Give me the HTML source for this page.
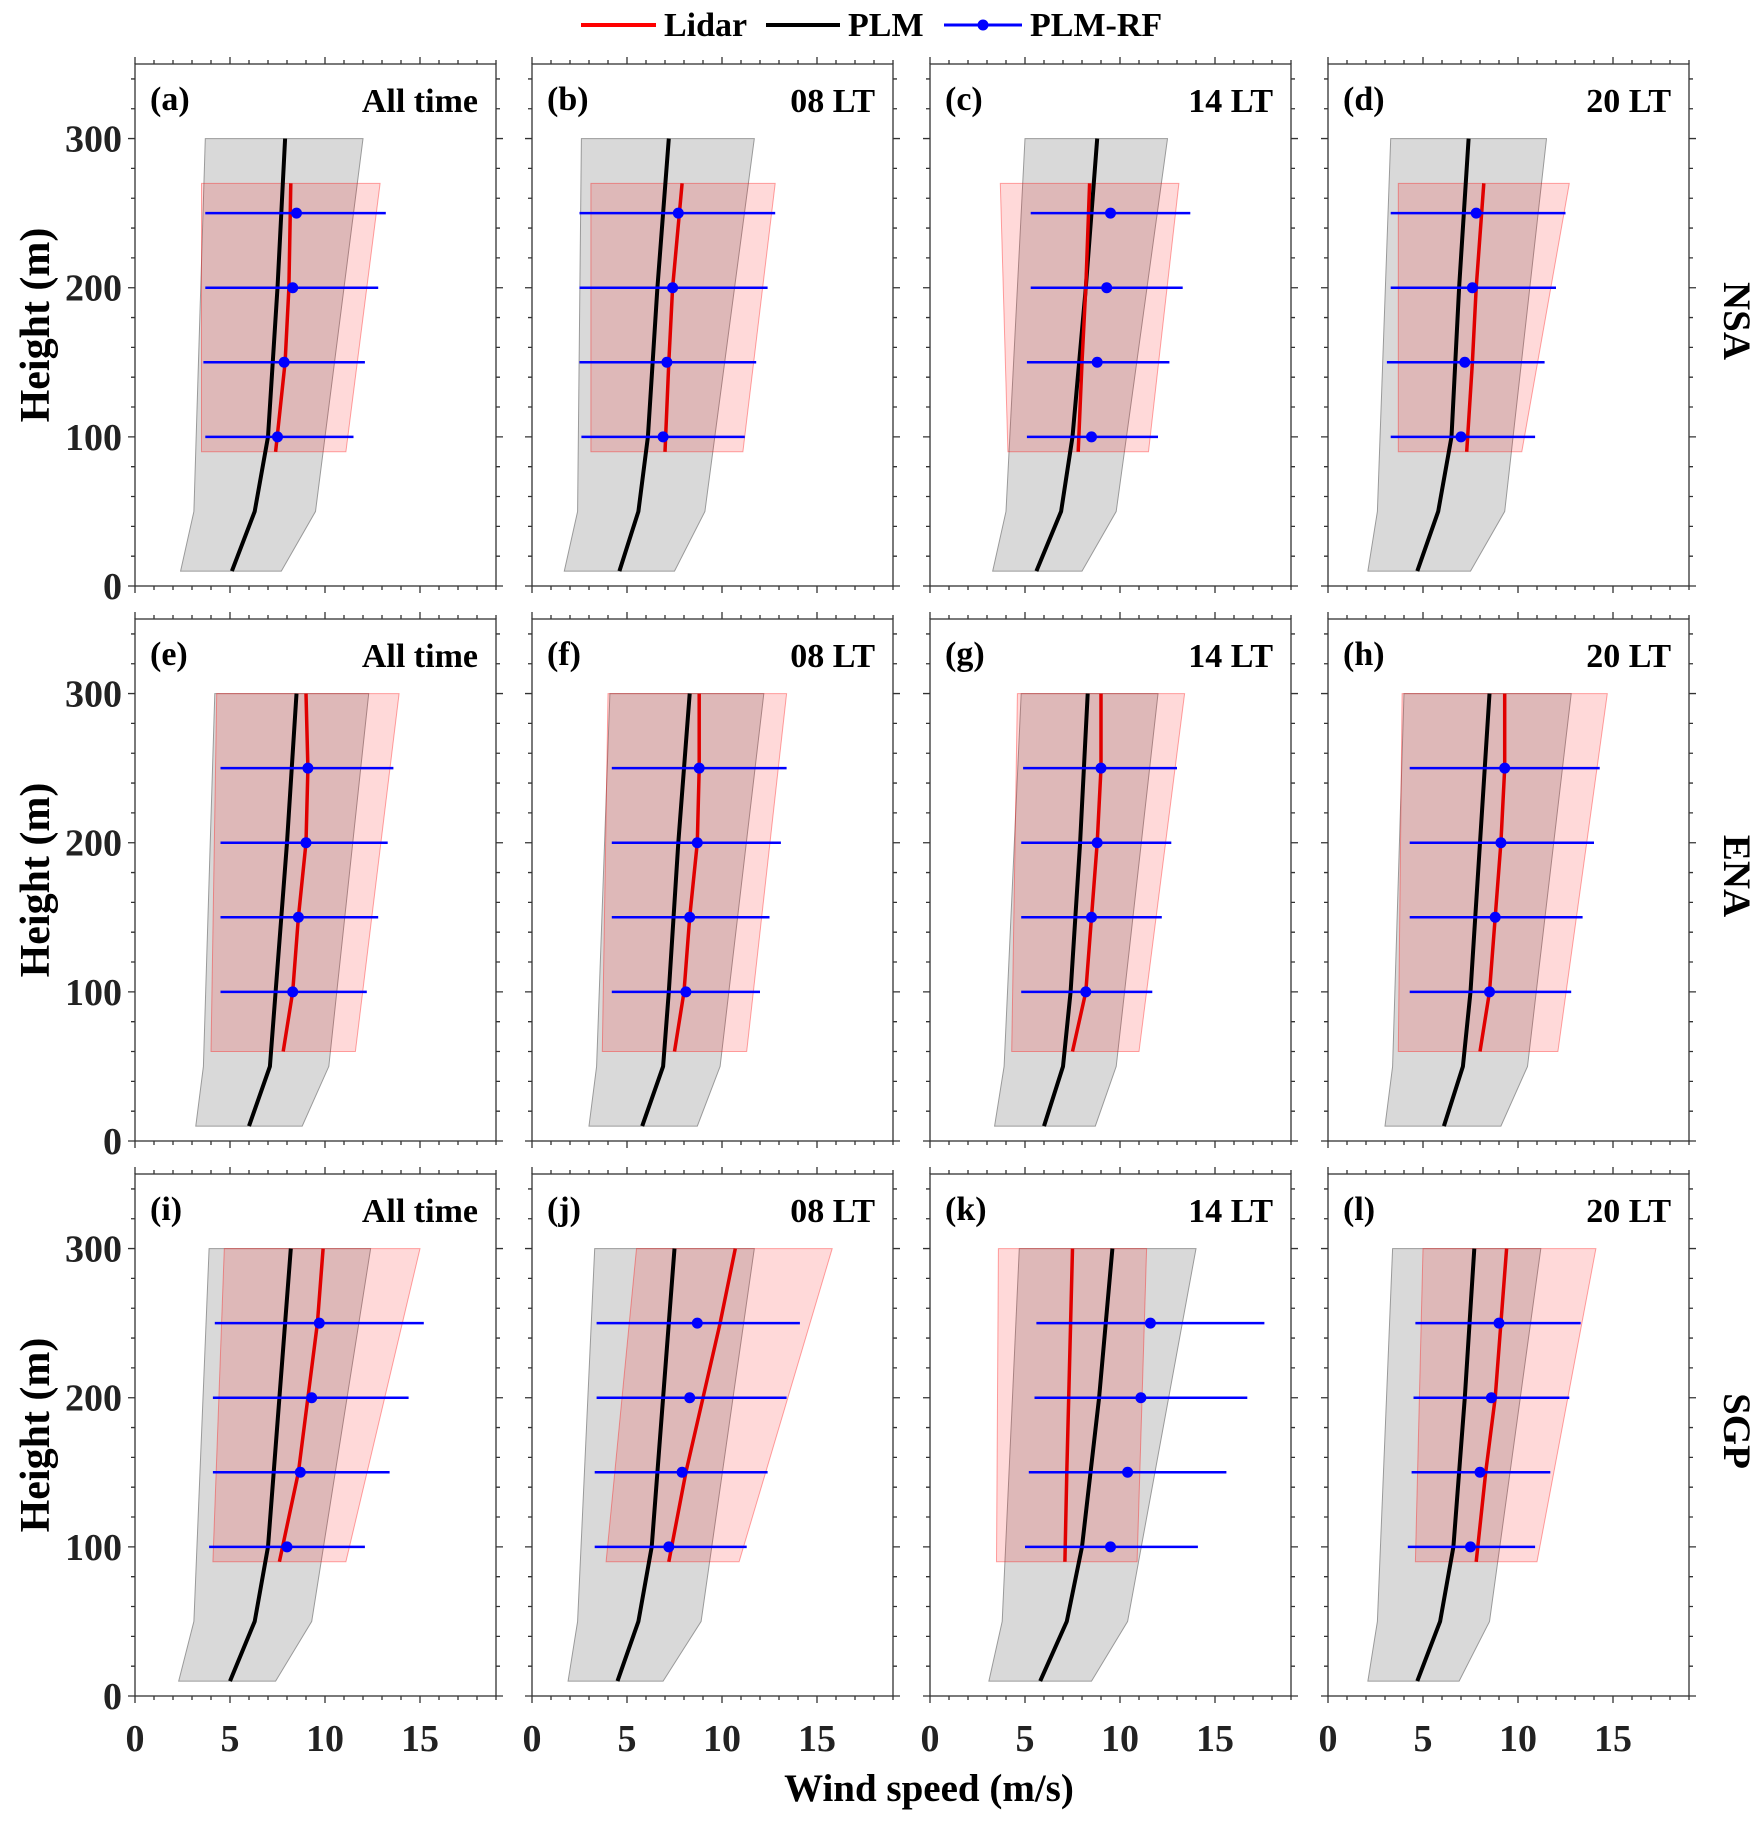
<!DOCTYPE html>
<html><head><meta charset="utf-8">
<style>
html,body{margin:0;padding:0;background:#fff;}
svg{display:block;font-family:"Liberation Serif",serif;font-weight:bold;}
</style></head>
<body>
<svg id="fig" width="1763" height="1821" viewBox="0 0 1763 1821" xmlns="http://www.w3.org/2000/svg">
<g>
  <line x1="581" y1="25" x2="656" y2="25" stroke="#ff0000" stroke-width="4"/>
  <text x="664" y="36" font-size="34">Lidar</text>
  <line x1="766" y1="25" x2="840" y2="25" stroke="#000" stroke-width="4"/>
  <text x="848" y="36" font-size="34">PLM</text>
  <line x1="944" y1="25" x2="1022" y2="25" stroke="#0000ff" stroke-width="3"/>
  <circle cx="983" cy="25" r="5.5" fill="#0000ff"/>
  <text x="1030" y="36" font-size="34">PLM-RF</text>
</g>
<text x="929" y="1801" font-size="39" text-anchor="middle">Wind speed (m/s)</text>
</svg>
<script>
const panelLabels = ['(a)','(b)','(c)','(d)','(e)','(f)','(g)','(h)','(i)','(j)','(k)','(l)'];
const timeLabels = ['All time','08 LT','14 LT','20 LT'];
const siteLabels = ['NSA','ENA','SGP'];
const xTicks = [0,5,10,15];
const yTicks = [0,100,200,300];

const plmH = [10,50,100,200,300];
const plmMean = [
 [5.1,6.3,7.0,7.5,7.9],[4.6,5.6,6.1,6.6,7.2],[5.6,6.9,7.5,8.2,8.8],[4.7,5.8,6.5,6.9,7.4],
 [6.0,7.1,7.4,8.0,8.5],[5.8,6.9,7.2,7.7,8.3],[6.0,7.0,7.4,7.9,8.3],[6.1,7.1,7.5,8.0,8.5],
 [5.0,6.3,7.0,7.6,8.2],[4.5,5.6,6.3,6.9,7.5],[5.8,7.2,8.0,8.9,9.6],[4.7,5.9,6.6,7.2,7.7]];
const grayH = [10,50,300];
const plmLo = [
 [2.4,3.1,3.7],[1.7,2.4,2.6],[3.3,4.0,5.0],[2.1,2.6,3.3],
 [3.2,3.6,4.2],[3.0,3.4,4.1],[3.4,3.9,4.8],[3.0,3.4,4.0],
 [2.3,3.1,3.9],[1.9,2.4,3.3],[3.1,3.8,4.7],[2.1,2.6,3.4]];
const plmHi = [
 [7.7,9.5,12.0],[7.5,9.1,11.7],[8.0,9.8,12.5],[7.5,9.3,11.5],
 [8.8,10.2,12.3],[8.7,9.9,12.2],[8.7,9.8,12.0],[9.1,10.5,12.8],
 [7.4,9.3,12.4],[6.9,8.9,11.7],[8.5,10.4,14.0],[6.9,8.5,11.2]];

const lidarH = [[90,150,200,270],[60,100,150,200,250,300],[90,150,200,250,300]];
const lidarMean = [
 [7.4,7.9,8.1,8.2],[7.0,7.2,7.4,7.9],[7.8,8.0,8.2,8.4],[7.3,7.6,7.8,8.2],
 [7.8,8.3,8.6,9.0,9.1,9.0],[7.5,8.0,8.3,8.7,8.8,8.8],[7.5,8.2,8.5,8.8,9.0,9.0],[8.0,8.5,8.8,9.1,9.3,9.3],
 [7.6,8.6,9.1,9.6,9.9],[7.2,8.1,9.0,9.9,10.7],[7.1,7.2,7.3,7.4,7.5],[7.8,8.3,8.8,9.1,9.4]];
const lidarLo = [
 [3.5,3.5],[3.1,3.1],[4.1,3.7],[3.7,3.7],
 [4.0,4.3],[3.7,4.0],[4.3,4.6],[3.7,3.9],
 [4.1,4.7],[3.9,5.5],[3.5,3.6],[4.6,5.0]];
const lidarHi = [
 [11.1,12.9],[11.1,12.8],[11.5,13.1],[10.2,12.7],
 [11.6,13.9],[11.3,13.4],[11.0,13.4],[12.1,14.7],
 [11.1,15.0],[10.9,15.8],[10.9,11.4],[11.0,14.1]];

const rfH = [100,150,200,250];
const rfMean = [
 [7.5,7.85,8.3,8.5],[6.9,7.1,7.4,7.7],[8.5,8.8,9.3,9.5],[7.0,7.2,7.6,7.8],
 [8.3,8.6,9.0,9.1],[8.1,8.3,8.7,8.8],[8.2,8.5,8.8,9.0],[8.5,8.8,9.1,9.3],
 [8.0,8.7,9.3,9.7],[7.2,7.9,8.3,8.7],[9.5,10.4,11.1,11.6],[7.5,8.0,8.6,9.0]];
const rfLo = [
 [3.7,3.6,3.7,3.7],[2.6,2.5,2.5,2.5],[5.1,5.1,5.3,5.3],[3.3,3.1,3.3,3.3],
 [4.5,4.5,4.5,4.5],[4.2,4.2,4.2,4.2],[4.8,4.8,4.8,4.9],[4.3,4.3,4.3,4.3],
 [3.9,4.1,4.1,4.2],[3.3,3.3,3.4,3.4],[5.0,5.2,5.5,5.6],[4.2,4.4,4.5,4.6]];
const rfHi = [
 [11.5,12.1,12.8,13.2],[11.2,11.8,12.4,12.8],[12.0,12.6,13.3,13.7],[10.9,11.4,12.0,12.5],
 [12.2,12.8,13.3,13.6],[12.0,12.5,13.1,13.4],[11.7,12.2,12.7,13.0],[12.8,13.4,14.0,14.3],
 [12.1,13.4,14.4,15.2],[11.3,12.4,13.4,14.1],[14.1,15.6,16.7,17.6],[10.9,11.7,12.7,13.3]];

const NS='http://www.w3.org/2000/svg';
const svg=document.getElementById('fig');
const LEFTS=[135,532,930,1328], TOPS=[64,619,1174], PW=361, PH=522, XMAX=19, YMAX=350;
function mk(tag,attrs,parent){const e=document.createElementNS(NS,tag);for(const k in attrs)e.setAttribute(k,attrs[k]);parent.appendChild(e);return e;}

for(let r=0;r<3;r++){
  const yt=mk('text',{x:0,y:0,'font-size':42,'text-anchor':'middle',transform:`translate(49,${TOPS[r]+PH/2}) rotate(-90)`},svg);
  
  
  yt.setAttribute('xml:space','preserve');
  yt.textContent='Height  (m)';
  const st=mk('text',{x:0,y:0,'font-size':39,'text-anchor':'middle',transform:`translate(1724,${TOPS[r]+PH/2-4}) rotate(90)`},svg);
  
  
  st.textContent=siteLabels[r];
  for(let c=0;c<4;c++){
    const p=r*4+c, L=LEFTS[c], T=TOPS[r];
    const X=v=>L+v/XMAX*PW, Y=h=>T+PH-h/YMAX*PH;
    const g=mk('g',{},svg);
    
    
    let pts=[];
    grayH.forEach((h,i)=>pts.push(X(plmLo[p][i])+','+Y(h)));
    for(let i=grayH.length-1;i>=0;i--)pts.push(X(plmHi[p][i])+','+Y(grayH[i]));
    const gb=mk('polygon',{points:pts.join(' '),fill:'#d9d9d9',stroke:'#9a9a9a','stroke-width':1},g);
    
    
    const lh=lidarH[r], hb=lh[0], ht=lh[lh.length-1];
    pts=[X(lidarLo[p][0])+','+Y(hb),X(lidarLo[p][1])+','+Y(ht),X(lidarHi[p][1])+','+Y(ht),X(lidarHi[p][0])+','+Y(hb)];
    const pb=mk('polygon',{points:pts.join(' '),fill:'rgba(255,0,0,0.15)',stroke:'rgba(255,0,0,0.35)','stroke-width':1},g);
    
    
    const pl=mk('polyline',{points:plmH.map((h,i)=>X(plmMean[p][i])+','+Y(h)).join(' '),fill:'none',stroke:'#000','stroke-width':4},g);
    
    
    const ll=mk('polyline',{points:lh.map((h,i)=>X(lidarMean[p][i])+','+Y(h)).join(' '),fill:'none',stroke:'#e00000','stroke-width':3.5},g);
    
    
    rfH.forEach((h,i)=>{
      const eb=mk('line',{x1:X(rfLo[p][i]),x2:X(rfHi[p][i]),y1:Y(h),y2:Y(h),stroke:'#0000ff','stroke-width':2.5},g);
      
      
      const dt=mk('circle',{cx:X(rfMean[p][i]),cy:Y(h),r:5.5,fill:'#0000ff'},g);
      
      
    });
    const fr=mk('rect',{x:L,y:T,width:PW,height:PH,fill:'none',stroke:'#333','stroke-width':1.3},g);
    
    
    let d='';
    for(let v=0;v<=XMAX;v++){const x=X(v),len=(v%5===0)?7:4;d+=`M${x},${T+PH}v${len}M${x},${T}v${-len}`;}
    for(let h=0;h<=YMAX;h+=20){const y=Y(h),len=(h%100===0)?7:4;d+=`M${L},${y}h${-len}M${L+PW},${y}h${len}`;}
    const tk=mk('path',{d:d,stroke:'#333','stroke-width':1.3,fill:'none'},g);
    
    
    if(c===0){yTicks.forEach(v=>{const t=mk('text',{x:L-13,y:Y(v)+13,'font-size':38,'text-anchor':'end',fill:'#222'},g);
      
      
      t.textContent=v;});}
    if(r===2){xTicks.forEach(v=>{const t=mk('text',{x:X(v),y:T+PH+55,'font-size':38,'text-anchor':'middle',fill:'#222'},g);
      
      
      t.textContent=v;});}
    const pt=mk('text',{x:L+15,y:T+46,'font-size':34},g);
    
    
    pt.textContent=panelLabels[p];
    const tt=mk('text',{x:L+PW-18,y:T+48,'font-size':34,'text-anchor':'end'},g);
    
    
    tt.textContent=timeLabels[c];
  }
}
</script>
</body></html>
